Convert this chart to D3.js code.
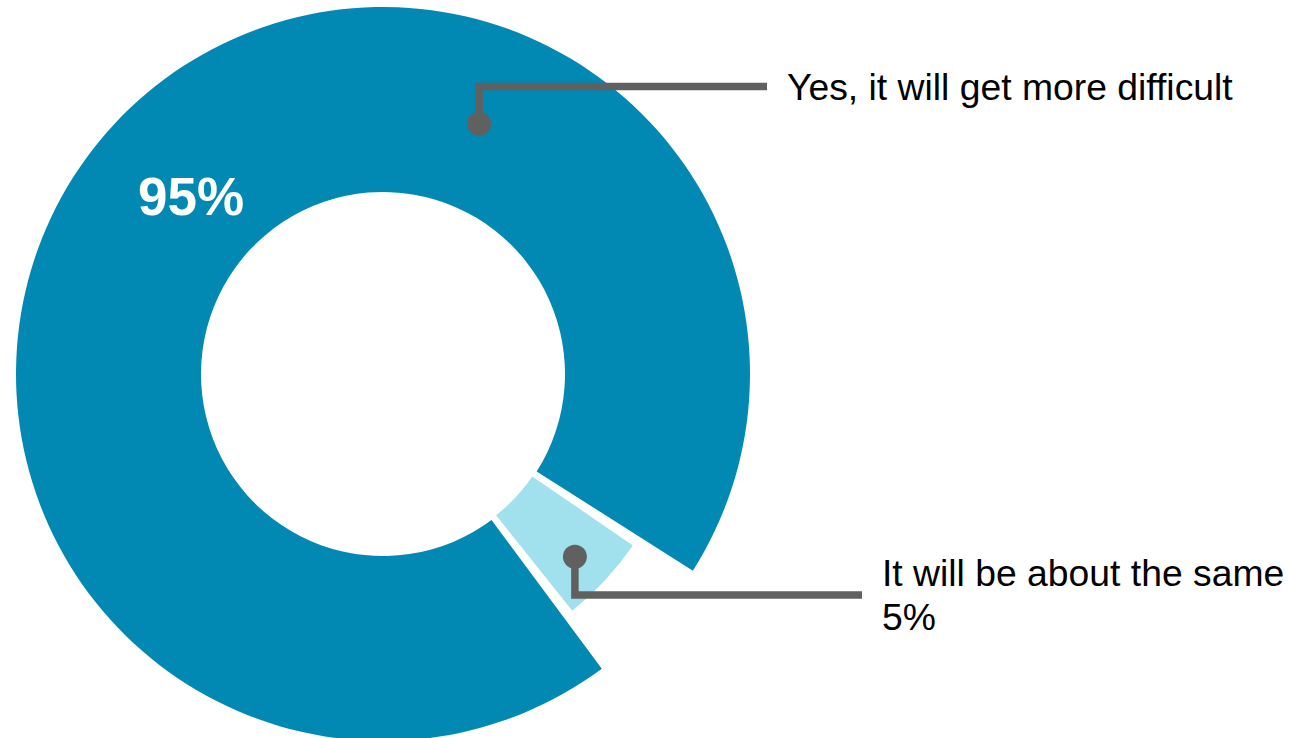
<!DOCTYPE html>
<html>
<head>
<meta charset="utf-8">
<script src="https://cdn.jsdelivr.net/npm/d3@7"></script>
<style>
  html, body { margin: 0; padding: 0; background: #ffffff; }
  svg { display: block; }
</style>
</head>
<body>
<svg id="chart" width="1289" height="738"></svg>
<script>
// Survey answers and their shares
const categories = ["Yes, it will get more difficult", "It will be about the same"];
const values = [95, 5];
const valueLabels = ["95%", "5%"];

// Layout and styling
const width = 1289, height = 738;
const cx = 383, cy = 374;
const deg = Math.PI / 180;
const sliceColors = ["#0189b4", "#a0e1ed"];
const innerRadii = [182, 181];
const outerRadii = [367, 303];
const trimDeg = [1.5, 0.55];          // white gap trimmed off each slice edge
const startDeg = 141.9;
const fontFamily = "'Liberation Sans', Arial, Helvetica, sans-serif";
const leaderColor = "#606060";
const labelSize = 37.3;

// Leader anchors (polar: angle from 12 o'clock clockwise, radius), elbow y, line end x
const leaders = [
  { angle: 21,    r: 268, elbowY: 86.5, endX: 767, textX: 787 },
  { angle: 133.6, r: 265, elbowY: 595,  endX: 862, textX: 882 }
];

const svg = d3.select("#chart")
  .attr("width", width)
  .attr("height", height)
  .attr("font-family", fontFamily);

const g = svg.append("g").attr("transform", `translate(${cx},${cy})`);

const pie = d3.pie()
  .sort(null)
  .startAngle(startDeg * deg)
  .endAngle((startDeg + 360) * deg);

const arcs = pie(values).map((d, i) => ({
  ...d,
  i,
  startAngle: d.startAngle + trimDeg[i] * deg,
  endAngle: d.endAngle - trimDeg[i] * deg,
  innerRadius: innerRadii[i],
  outerRadius: outerRadii[i]
}));

const arc = d3.arc();

g.selectAll("path.slice")
  .data(arcs)
  .join("path")
  .attr("class", "slice")
  .attr("d", d => arc(d))
  .attr("fill", d => sliceColors[d.i]);

// Value label inside the large slice
const labelArc = d3.arc().innerRadius(262).outerRadius(262);
g.append("text")
  .datum(arcs[0])
  .attr("transform", d => `translate(${labelArc.centroid(d)})`)
  .attr("text-anchor", "middle")
  .attr("dy", "0.36em")
  .attr("fill", "#ffffff")
  .attr("font-weight", "bold")
  .attr("font-size", 53)
  .text(valueLabels[0]);

// Leader lines with dots and category labels
const polar = (a, r) => [r * Math.sin(a * deg), -r * Math.cos(a * deg)];

leaders.forEach((L, i) => {
  const [px, py] = polar(L.angle, L.r);
  const x0 = cx + px, y0 = cy + py;
  svg.append("path")
    .attr("d", `M${x0},${y0}V${L.elbowY}H${L.endX}`)
    .attr("fill", "none")
    .attr("stroke", leaderColor)
    .attr("stroke-width", 7.5);
  svg.append("circle")
    .attr("cx", x0)
    .attr("cy", y0)
    .attr("r", 12)
    .attr("fill", leaderColor);
});

// Label for the large slice: single line centred on its leader
svg.append("text")
  .attr("x", leaders[0].textX)
  .attr("y", leaders[0].elbowY)
  .attr("dy", "0.35em")
  .attr("font-size", labelSize)
  .attr("fill", "#000000")
  .text(categories[0]);

// Label for the small slice: name and value on two lines centred on its leader
const lineH = 44.5;
const t2 = svg.append("text")
  .attr("font-size", labelSize)
  .attr("fill", "#000000");
[categories[1], valueLabels[1]].forEach((s, k) => {
  t2.append("tspan")
    .attr("x", leaders[1].textX)
    .attr("y", leaders[1].elbowY + (k - 0.5) * lineH)
    .attr("dy", "0.35em")
    .text(s);
});
</script>
</body>
</html>
